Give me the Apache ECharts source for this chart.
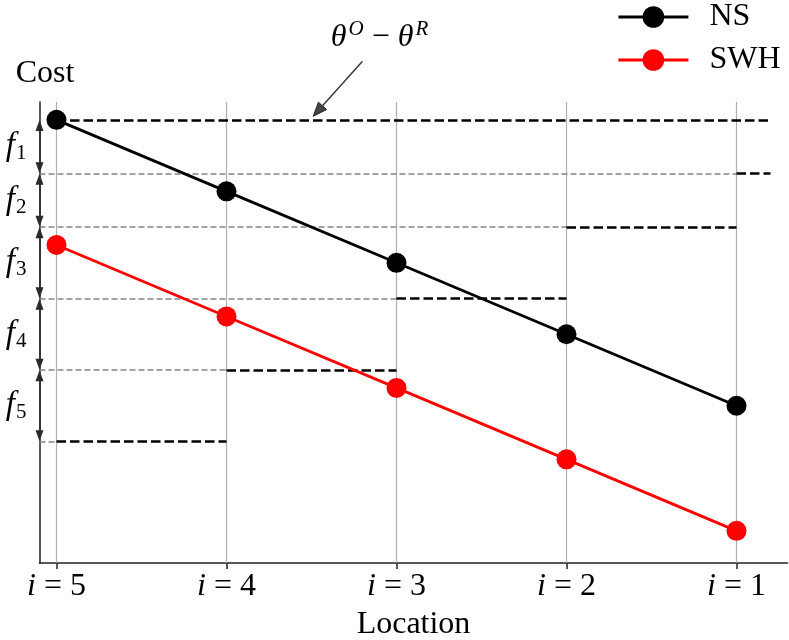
<!DOCTYPE html>
<html>
<head>
<meta charset="utf-8">
<script src="https://cdn.jsdelivr.net/npm/echarts@6.0.0/dist/echarts.min.js"></script>
<style>
html, body { margin: 0; padding: 0; background: #fff; }
#chart { width: 789px; height: 640px; }
</style>
</head>
<body>
<div id="chart"></div>
<script>
// locations, left to right: i=5 ... i=1 (x = 0..4)
var locations = ['5', '4', '3', '2', '1'];
var nsCost = [10, 9, 8, 7, 6];
var swhCost = [8.25, 7.25, 6.25, 5.25, 4.25];

// horizontal reference levels (top one is theta^O - theta^R)
var levels = [10, 9.25, 8.5, 7.5, 6.5, 5.5];
var blackFrom = [0, 4, 3, 2, 1, 0];
var blackTo = [4.2, 4.2, 4, 3, 2, 1];
var grayTo = [null, 4, 3, 2, 1, 0];
var fNames = ['1', '2', '3', '4', '5'];

// annotation arrow (data coords)
var annotTail = [1.8, 10.82];
var annotTip = [1.51, 10.05];
var annotText = [1.9, 11.15];

var xMin = -0.1, xMax = 4.3;
var yMin = 3.8, yMax = 10.25;
var serif = '"Liberation Serif", "DejaVu Serif", serif';

var chart = echarts.init(document.getElementById('chart'));

var gridLines = locations.map(function (l, i) { return { xAxis: i }; });

var grayLines = [], blackLines = [];
for (var k = 0; k < levels.length; k++) {
    if (grayTo[k] !== null) {
        grayLines.push([{ coord: [xMin, levels[k]] }, { coord: [grayTo[k], levels[k]] }]);
    }
    blackLines.push([{ coord: [blackFrom[k], levels[k]] }, { coord: [blackTo[k], levels[k]] }]);
}

// double arrows f_k on the y axis, shrunk a little at each end
var shrink = 0.08;
var fArrows = [], fLabels = [];
for (var j = 0; j < fNames.length; j++) {
    fArrows.push([{ coord: [xMin, levels[j] - shrink] }, { coord: [xMin, levels[j + 1] + shrink] }]);
    fLabels.push({ value: [xMin, (levels[j] + levels[j + 1]) / 2], name: fNames[j] });
}

var option = {
    animation: false,
    backgroundColor: '#fff',
    grid: { left: 39.5, right: 1.5, top: 102, bottom: 77, containLabel: false, outerBoundsMode: 'none' },
    legend: {
        data: ['NS', 'SWH'],
        orient: 'vertical',
        left: 612,
        top: -4,
        itemWidth: 70,
        itemHeight: 27,
        itemGap: 11,
        lineStyle: { width: 2.8 },
        textStyle: { fontFamily: serif, fontSize: 32, color: '#000', padding: [0, 0, 0, 16] }
    },
    xAxis: {
        type: 'value',
        min: xMin,
        max: xMax,
        name: 'Location',
        nameLocation: 'middle',
        nameGap: 46,
        nameTextStyle: { fontFamily: serif, fontSize: 32, color: '#000' },
        axisLine: { show: true, onZero: false, lineStyle: { color: '#222', width: 1.5 } },
        axisTick: { show: true, customValues: [0, 1, 2, 3, 4], length: 6, lineStyle: { color: '#222', width: 1.5 } },
        axisLabel: {
            customValues: [0, 1, 2, 3, 4],
            margin: 8,
            formatter: function (v) {
                return '{i|i}{n| = ' + locations[Math.round(v)] + '}';
            },
            rich: {
                i: { fontFamily: serif, fontStyle: 'italic', fontSize: 32, color: '#000' },
                n: { fontFamily: serif, fontSize: 32, color: '#000' }
            }
        },
        splitLine: { show: false }
    },
    yAxis: {
        type: 'value',
        min: yMin,
        max: yMax,
        name: 'Cost',
        nameLocation: 'end',
        nameGap: 12,
        nameTextStyle: { fontFamily: serif, fontSize: 32, color: '#000', padding: [0, 0, 0, 11] },
        axisLine: { show: true, onZero: false, lineStyle: { color: '#222', width: 1.5 } },
        axisTick: { show: false },
        axisLabel: { show: false },
        splitLine: { show: false }
    },
    series: [
        {
            name: 'guides',
            type: 'line',
            data: [],
            silent: true,
            z: 1,
            markLine: {
                silent: true,
                symbol: 'none',
                animation: false,
                label: { show: false },
                lineStyle: { color: '#b0b0b0', width: 1.2, type: 'solid' },
                data: gridLines
            }
        },
        {
            name: 'gray',
            type: 'line',
            data: [],
            silent: true,
            z: 2,
            markLine: {
                silent: true,
                symbol: 'none',
                animation: false,
                label: { show: false },
                lineStyle: { color: '#858585', width: 1.5, type: [6, 3] },
                data: grayLines
            }
        },
        {
            name: 'black',
            type: 'line',
            data: [],
            silent: true,
            z: 3,
            markLine: {
                silent: true,
                symbol: 'none',
                animation: false,
                label: { show: false },
                lineStyle: { color: '#000', width: 2.7, type: [9.5, 4] },
                data: blackLines
            }
        },
        {
            name: 'arrows',
            type: 'line',
            data: [],
            silent: true,
            z: 4,
            markLine: {
                silent: true,
                symbol: ['triangle', 'triangle'],
                symbolSize: [8, 11],
                animation: false,
                label: { show: false },
                lineStyle: { color: '#2a2a2a', width: 1.5, type: 'solid' },
                data: fArrows
            }
        },
        {
            name: 'fLabels',
            type: 'scatter',
            data: fLabels,
            symbolSize: 0,
            silent: true,
            itemStyle: { opacity: 1 },
            label: {
                show: true,
                position: 'left',
                distance: 13,
                opacity: 1,
                formatter: function (p) { return '{f|f}{s|' + p.name + '}'; },
                rich: {
                    f: { fontFamily: serif, fontStyle: 'italic', fontSize: 33, color: '#000' },
                    s: { fontFamily: serif, fontSize: 21, color: '#000', padding: [14, 0, 0, 1] }
                }
            }
        },
        {
            name: 'NS',
            type: 'line',
            z: 6,
            data: nsCost.map(function (v, i) { return [i, v]; }),
            symbol: 'circle',
            symbolSize: 20,
            clip: false,
            lineStyle: { color: '#000', width: 2.8 },
            itemStyle: { color: '#000' }
        },
        {
            name: 'SWH',
            type: 'line',
            z: 6,
            data: swhCost.map(function (v, i) { return [i, v]; }),
            symbol: 'circle',
            symbolSize: 20,
            clip: false,
            lineStyle: { color: '#ff0000', width: 2.8 },
            itemStyle: { color: '#ff0000' }
        }
    ]
};

chart.setOption(option);

// annotation "theta^O - theta^R" with an arrow, placed from data coordinates
var pTail = chart.convertToPixel({ gridIndex: 0 }, annotTail);
var pTip = chart.convertToPixel({ gridIndex: 0 }, annotTip);
var pText = chart.convertToPixel({ gridIndex: 0 }, annotText);
var dx = pTip[0] - pTail[0], dy = pTip[1] - pTail[1];
var len = Math.sqrt(dx * dx + dy * dy);
var ux = dx / len, uy = dy / len;
var headLen = 14, headHalf = 5.5;
var base = [pTip[0] - ux * headLen, pTip[1] - uy * headLen];
chart.setOption({
    graphic: [
        {
            type: 'line',
            z: 10,
            shape: { x1: pTail[0], y1: pTail[1], x2: base[0], y2: base[1] },
            style: { stroke: '#3a3a3a', lineWidth: 1.5 }
        },
        {
            type: 'polygon',
            z: 10,
            shape: {
                points: [
                    pTip,
                    [base[0] - uy * headHalf, base[1] + ux * headHalf],
                    [base[0] + uy * headHalf, base[1] - ux * headHalf]
                ]
            },
            style: { fill: '#444', stroke: '#222', lineWidth: 1 }
        },
        {
            type: 'text',
            z: 10,
            x: pText[0],
            y: pText[1],
            style: {
                text: '{t|θ}{p|O}{m| − }{t|θ}{p|R}',
                align: 'center',
                verticalAlign: 'middle',
                rich: {
                    t: { fontFamily: serif, fontStyle: 'italic', fontSize: 32, fill: '#000' },
                    p: { fontFamily: serif, fontStyle: 'italic', fontSize: 21, fill: '#000', padding: [0, 0, 16, 2] },
                    m: { fontFamily: serif, fontSize: 32, fill: '#000' }
                }
            }
        }
    ]
});
</script>
</body>
</html>
